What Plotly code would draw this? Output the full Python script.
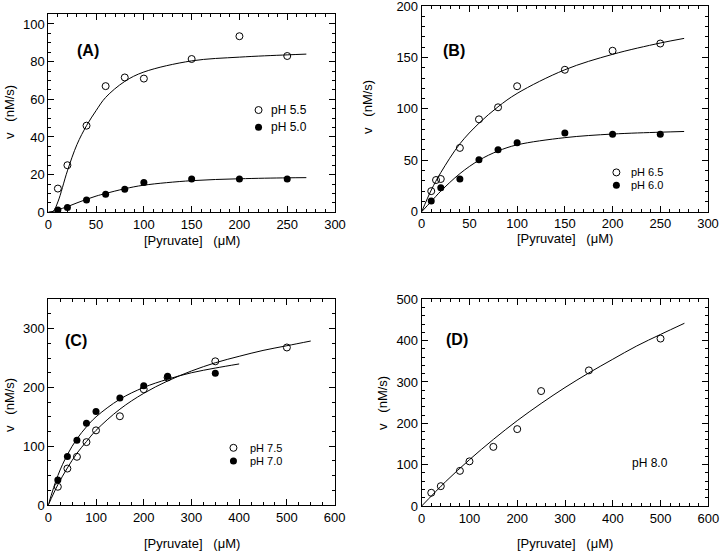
import plotly.graph_objects as go

W, H = 720, 551
FONT = "Liberation Sans, Arial, sans-serif"

# ---------------- data ----------------
# Panel A
a_x = [10, 20, 40, 60, 80, 100, 150, 200, 250]
a_ph55 = [12.6, 25, 46, 67, 71.6, 71, 81.4, 93.5, 83]
a_ph50 = [1.2, 2.6, 6.5, 9.6, 12.2, 15.8, 17.7, 17.7, 17.7]
a_fit_x = [0, 5, 10, 20, 30, 40, 50, 60, 80, 100, 150, 200, 250, 270]
a_fit55 = [0, 0.5, 5.5, 22, 36, 46, 54, 61, 69.5, 74.5, 80.4, 82.4, 83.6, 84]
a_fit50 = [0, 0.5, 1.3, 3, 5, 6.9, 8.6, 10, 12.5, 14.4, 16.8, 17.8, 18.3, 18.4]

# Panel B
b_x65 = [10, 15, 20, 40, 60, 80, 100, 150, 200, 250]
b_ph65 = [20, 30.8, 31.8, 62, 89.8, 101.5, 122, 138, 156.5, 163.5]
b_x60 = [10, 20, 40, 60, 80, 100, 150, 200, 250]
b_ph60 = [10.4, 23.3, 31.8, 50.6, 60.3, 67.1, 76.5, 75.2, 75.2]
b_fit_x = [0, 10, 20, 40, 60, 80, 100, 150, 200, 250, 275]
b_fit65 = [0, 21, 38, 66, 86, 102, 115, 138, 153, 164, 168.5]
b_fit60 = [0, 10, 20, 37, 50, 59, 65, 72, 75.5, 77.3, 78]

# Panel C
c_x = [20, 40, 60, 80, 100, 150, 200, 250, 350, 500]
c_ph75 = [31, 62, 82, 107, 127, 151, 197, 217, 244.5, 268]
c_x70 = [20, 40, 60, 80, 100, 150, 200, 250, 350]
c_ph70 = [42.4, 82.6, 110, 139, 159, 182, 203, 219, 224]
c_fit75_x = [0, 20, 40, 60, 80, 100, 150, 200, 250, 300, 350, 400, 450, 500, 550]
c_fit75 = [0, 34.5, 63, 88, 108, 127, 163, 190, 211, 228, 242, 253, 263, 271, 279]
c_fit70_x = [0, 20, 40, 60, 80, 100, 150, 200, 250, 300, 350, 400]
c_fit70 = [0, 50, 85.7, 112.5, 133, 150, 180, 200, 214, 225, 233, 240]

# Panel D
d_x = [20, 40, 80, 100, 150, 200, 250, 350, 500]
d_ph80 = [32, 48, 85, 108, 143, 186, 278, 328, 405]
d_fit_x = [0, 50, 100, 150, 200, 250, 300, 350, 400, 450, 500, 550]
d_fit80 = [0, 58.8, 112, 161, 206.5, 248, 286.6, 322, 355, 387, 415, 442]

x_title = "[Pyruvate]\u00a0\u00a0\u00a0(\u03bcM)"
y_title = "v\u00a0\u00a0\u00a0(nM/s)"

# ---------------- layout helpers ----------------
def dx(l, r):
    return [l / W, r / W]

def dy(t, b):
    return [1 - b / H, 1 - t / H]

fig = go.Figure()

open_m = dict(symbol="circle-open", size=7, color="black", line=dict(width=1, color="black"))
fill_m = dict(symbol="circle", size=7, color="black")
line_s = dict(color="black", width=1)

def fit(x, y, xa, ya):
    fig.add_trace(go.Scatter(x=x, y=y, mode="lines", line=line_s, line_shape="spline",
                             xaxis=xa, yaxis=ya, hoverinfo="skip"))

def pts(x, y, m, xa, ya):
    fig.add_trace(go.Scatter(x=x, y=y, mode="markers", marker=m, xaxis=xa, yaxis=ya))

# Panel A
fit(a_fit_x, a_fit55, "x", "y")
fit(a_fit_x, a_fit50, "x", "y")
pts(a_x, a_ph55, open_m, "x", "y")
pts(a_x, a_ph50, fill_m, "x", "y")
pts([220], [54.3], open_m, "x", "y")
pts([220], [45.1], fill_m, "x", "y")

# Panel B
fit(b_fit_x, b_fit65, "x2", "y2")
fit(b_fit_x, b_fit60, "x2", "y2")
pts(b_x65, b_ph65, open_m, "x2", "y2")
pts(b_x60, b_ph60, fill_m, "x2", "y2")
pts([204], [38.2], open_m, "x2", "y2")
pts([204], [25.6], fill_m, "x2", "y2")

# Panel C
fit(c_fit75_x, c_fit75, "x3", "y3")
fit(c_fit70_x, c_fit70, "x3", "y3")
pts(c_x, c_ph75, open_m, "x3", "y3")
pts(c_x70, c_ph70, fill_m, "x3", "y3")
pts([388], [97.3], open_m, "x3", "y3")
pts([388], [74.7], fill_m, "x3", "y3")

# Panel D
fit(d_fit_x, d_fit80, "x4", "y4")
pts(d_x, d_ph80, open_m, "x4", "y4")

def axis(dom, rng, dtick, minor, anchor):
    return dict(domain=dom, range=rng, dtick=dtick, tick0=0, anchor=anchor, automargin=False,
                showline=True, linecolor="black", linewidth=1, mirror="allticks",
                ticks="inside", ticklen=6, tickwidth=1, tickcolor="black",
                ticklabeloverflow="allow",
                minor=dict(dtick=minor, tick0=0, ticks="inside", ticklen=3, tickwidth=1, tickcolor="black"),
                showgrid=False, zeroline=False,
                tickfont=dict(family=FONT, size=13, color="black"))

fig.update_layout(
    width=W, height=H,
    margin=dict(l=0, r=0, t=0, b=0, pad=0, autoexpand=False),
    paper_bgcolor="white", plot_bgcolor="white",
    showlegend=False,
    font=dict(family=FONT, size=13, color="black"),
    xaxis=axis(dx(48.3, 335), [0, 300], 50, 10, "y"),
    yaxis=axis(dy(14, 212.3), [0, 105.3], 20, 5, "x"),
    xaxis2=axis(dx(421.7, 708), [0, 300], 50, 10, "y2"),
    yaxis2=axis(dy(6, 211.7), [0, 200], 50, 10, "x2"),
    xaxis3=axis(dx(48.3, 334.6), [0, 600], 100, 25, "y3"),
    yaxis3=axis(dy(299.3, 505), [0, 350], 100, 25, "x3"),
    xaxis4=axis(dx(421.7, 708.3), [0, 600], 100, 20, "y4"),
    yaxis4=axis(dy(299.3, 506), [0, 500], 100, 20, "x4"),
)

ann = []
def txt(text, x, y, xref, yref, size=11, bold=False, xanchor="left"):
    ann.append(dict(text=f"<b>{text}</b>" if bold else text, x=x, y=y, xref=xref, yref=yref,
                    showarrow=False, xanchor=xanchor, yanchor="middle",
                    font=dict(family=FONT, size=size, color="black")))

# legends
txt("pH 5.5", 231, 54.3, "x", "y", size=12)
txt("pH 5.0", 231, 45.1, "x", "y", size=12)
txt("pH 6.5", 217, 38.2, "x2", "y2")
txt("pH 6.0", 217, 25.6, "x2", "y2")
txt("pH 7.5", 418, 97.3, "x3", "y3")
txt("pH 7.0", 418, 74.7, "x3", "y3")
txt("pH 8.0", 478, 103, "x4", "y4", size=12, xanchor="center")

# panel labels
txt("(A)", 42, 86, "x", "y", size=16, bold=True, xanchor="center")
txt("(B)", 34, 157, "x2", "y2", size=16, bold=True, xanchor="center")
txt("(C)", 59, 280, "x3", "y3", size=16, bold=True, xanchor="center")
txt("(D)", 73, 402, "x4", "y4", size=16, bold=True, xanchor="center")

# axis titles (paper coordinates from pixels)
def ptxt(text, px, py, angle=0):
    ann.append(dict(text=text, x=px / W, y=1 - py / H, xref="paper", yref="paper",
                    showarrow=False, xanchor="center", yanchor="middle", textangle=angle,
                    font=dict(family=FONT, size=13, color="black")))

ptxt(x_title, 191.6, 240)
ptxt(x_title, 565, 239)
ptxt(x_title, 191.5, 543)
ptxt(x_title, 565, 543)
ptxt(y_title, 10, 112, -90)
ptxt(y_title, 367, 107, -90)
ptxt(y_title, 9, 405, -90)
ptxt(y_title, 382, 403, -90)

fig.update_layout(annotations=ann)
fig.write_html("out.html",
               config={"displayModeBar": False, "staticPlot": True},
               post_script="document.body.style.margin='0';document.body.style.overflow='hidden';")
